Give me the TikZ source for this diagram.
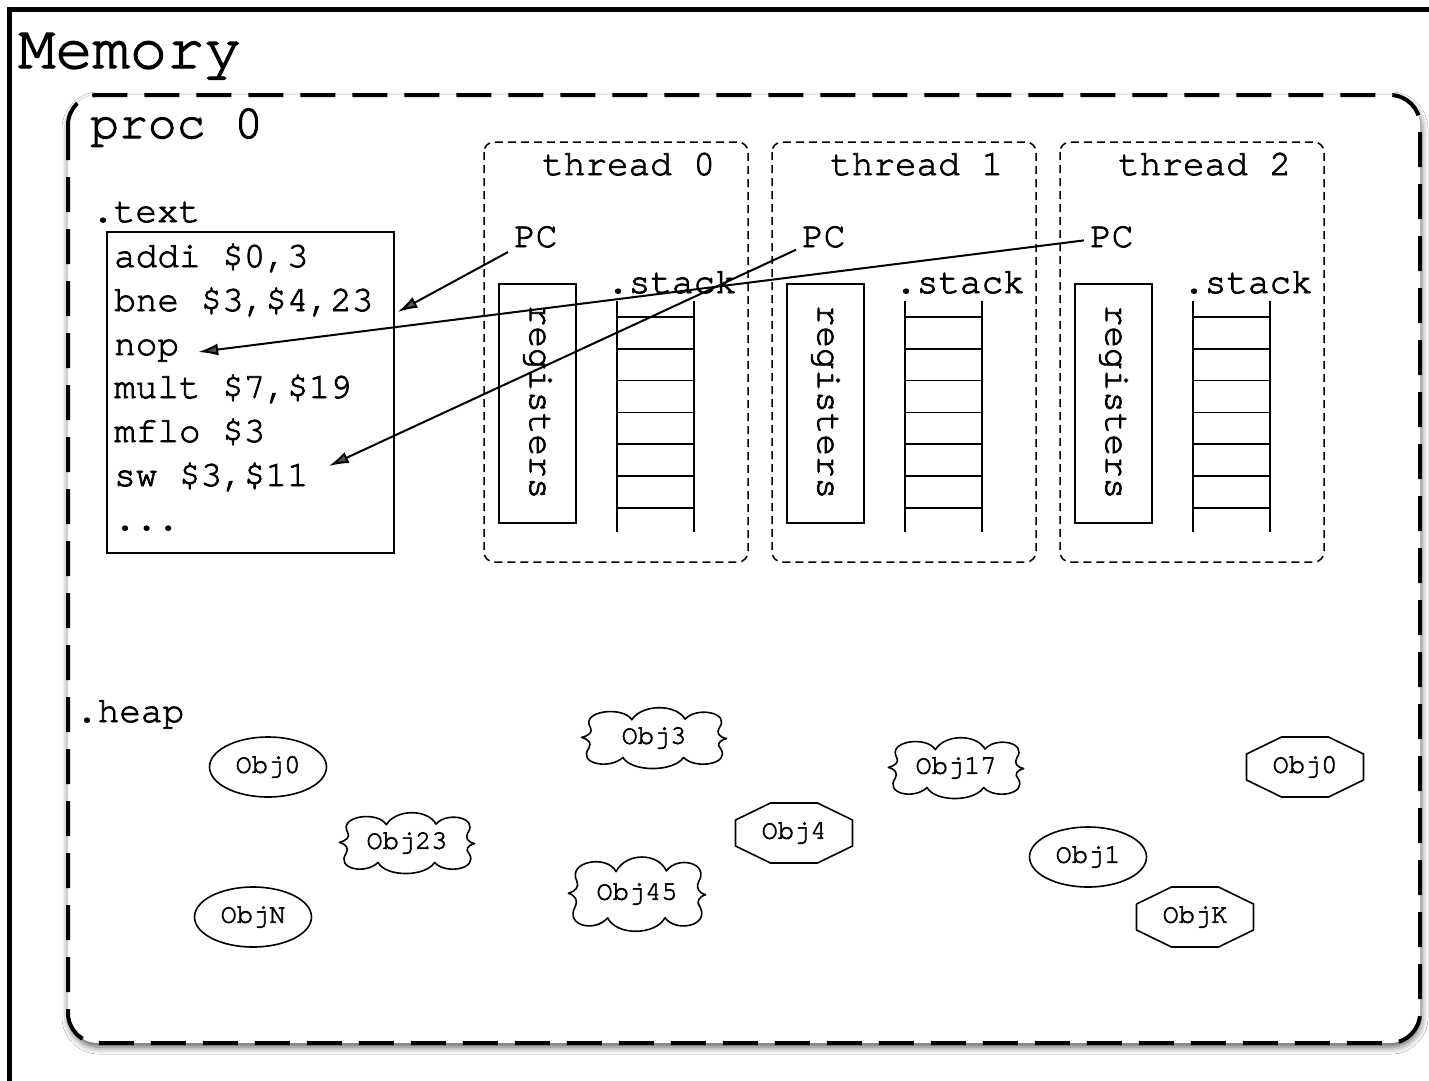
\documentclass[tikz,border=0pt]{standalone}
\usepackage{fontspec}
\setmainfont{TeX Gyre Cursor}[FakeBold=2.2, Ligatures=CommonOff]
\usetikzlibrary{shapes.geometric,arrows.meta,shadows.blur,calc}
\newcommand\cloudat[3]{%
  \begin{scope}[shift={(#1.center)}, x=#2pt, y=-#3pt]
  \draw[line width=1.6pt, line join=round]
    (-0.86,-0.36) .. controls (-1.00,-0.92) and (-0.42,-1.10) .. (-0.30,-0.62)
    .. controls (-0.16,-1.16) and (0.30,-1.16) .. (0.42,-0.64)
    .. controls (0.58,-1.08) and (1.04,-0.86) .. (0.88,-0.34)
    .. controls (0.84,-0.16) and (0.88,-0.04) .. (0.98,0.02)
    .. controls (0.88,0.08) and (0.84,0.22) .. (0.90,0.36)
    .. controls (1.04,0.88) and (0.56,1.08) .. (0.40,0.66)
    .. controls (0.26,1.16) and (-0.30,1.16) .. (-0.42,0.66)
    .. controls (-0.60,1.08) and (-1.04,0.88) .. (-0.88,0.34)
    .. controls (-0.84,0.18) and (-0.88,0.04) .. (-0.98,-0.02)
    .. controls (-0.88,-0.08) and (-0.82,-0.20) .. (-0.86,-0.36) -- cycle;
  \end{scope}}
\begin{document}
\begin{tikzpicture}[x=1pt,y=-1pt,
  txt/.style={font=\fontsize{36}{43}\selectfont, inner sep=0pt, anchor=base west},
  objfont/.style={font=\fontsize{27}{30}\selectfont},
  thr/.style={draw, line width=1.5pt, dash pattern=on 8pt off 5pt, rounded corners=10pt},
  procbox/.style={draw, fill=white, line width=4pt, dash pattern=on 35pt off 17pt, rounded corners=30pt,
     blur shadow={shadow xshift=1pt, shadow yshift=-4pt, shadow blur radius=7pt, shadow opacity=65}},
  arr/.style={-{Latex[length=20pt,width=12pt]}, line width=2pt},
  thin/.style={draw, line width=1.5pt},
  ell/.style={ellipse, draw, line width=1.6pt, minimum width=117pt, minimum height=60pt, inner sep=0pt, objfont},
  cldn/.style={inner sep=0pt, objfont},
  octn/.style={minimum width=117pt, minimum height=60pt, inner sep=0pt, objfont},
  octl/.style={line width=1.6pt, line join=round}
]
\useasboundingbox (0,0) rectangle (1429,1080);
\fill[white] (0,0) rectangle (1429,1080);
\begin{scope}
  \clip (0,0) rectangle (1429,1080);
  \draw[line width=5pt] (9.5,9.5) rectangle (1470,1120);
\end{scope}
\node[font=\fontsize{62}{70}\selectfont, inner sep=0pt, anchor=base west] (mem) at (18,68) {Memory};

% process box
\path[procbox] (68,95) rectangle (1420,1043);
\node[font=\fontsize{48}{56}\selectfont, inner sep=0pt, anchor=base west] (proc) at (90,138) {proc 0};

% text segment
\node[txt] (textlab) at (92,222) {.text};
\draw[thin] (107,232) rectangle (394,553);
\node[txt] (l1) at (114,267) {addi \$0,3};
\node[txt] (l2) at (114,311) {bne \$3,\$4,23};
\node[txt] (l3) at (114,355) {nop};
\node[txt] (l4) at (114,398) {mult \$7,\$19};
\node[txt] (l5) at (114,442) {mflo \$3};
\node[txt] (l6) at (114,486) {sw \$3,\$11};
\node[txt] (l7) at (114,530) {...};

% threads
\foreach \i in {0,1,2} {
  \pgfmathsetmacro\dx{288*\i}
  \draw[thr] (484+\dx,142) rectangle (748+\dx,562);
  \node[txt] (th\i) at (542+\dx,175) {thread \i};
  \node[txt, inner sep=6pt] (pc\i) at (508+\dx,247) {PC};
  \draw[line width=2pt] (499+\dx,284) rectangle (576+\dx,523);
  \node[font=\fontsize{36}{43}\selectfont, inner sep=0pt, rotate=-90] (reg\i) at (537.5+\dx,402) {registers};
  \node[txt] (st\i) at (607+\dx,293) {.stack};
  \draw[line width=2pt] (617+\dx,301) -- (617+\dx,532);
  \draw[line width=2pt] (694+\dx,301) -- (694+\dx,532);
  \foreach \k in {0,...,6} {
    \draw[line width=1.6pt] (617+\dx,317+31.8*\k) -- (694+\dx,317+31.8*\k);
  }
}

% PC arrows
\draw[arr] (pc0) -- ($(l2.base east)+(24,1)$);
\draw[arr] (pc1) -- ($(l6.base east)+(20,-20)$);
\draw[arr] (pc2) -- ($(l3.base east)+(19,-3)$);

% heap
\node[txt] (heap) at (76,722) {.heap};
\node[ell] (o0) at (268,767) {Obj0};
\node[ell] (oN) at (253,917) {ObjN};
\node[ell] (o1) at (1088,857) {Obj1};
\foreach \n/\x/\y/\w/\h/\t in {o23/407/843/69/29.5/Obj23, o3/654/738/74/29.5/Obj3, o17/956/768/69/29.5/Obj17, o45/637/894/70/36/Obj45} {
  \node[cldn] (\n) at (\x,\y) {\t};
  \cloudat{\n}{\w}{\h}
}
\foreach \n/\x/\y/\t in {o4/794/833/Obj4, o0b/1305/767/Obj0, oK/1195/917/ObjK} {
  \node[octn] (\n) at (\x,\y) {\t};
  \draw[octl] ($(\n.center)+(-23.5,-30)$) -- ($(\n.center)+(23.5,-30)$) -- ($(\n.center)+(58.5,-13)$)
     -- ($(\n.center)+(58.5,13)$) -- ($(\n.center)+(23.5,30)$) -- ($(\n.center)+(-23.5,30)$)
     -- ($(\n.center)+(-58.5,13)$) -- ($(\n.center)+(-58.5,-13)$) -- cycle;
}
\end{tikzpicture}
\end{document}
